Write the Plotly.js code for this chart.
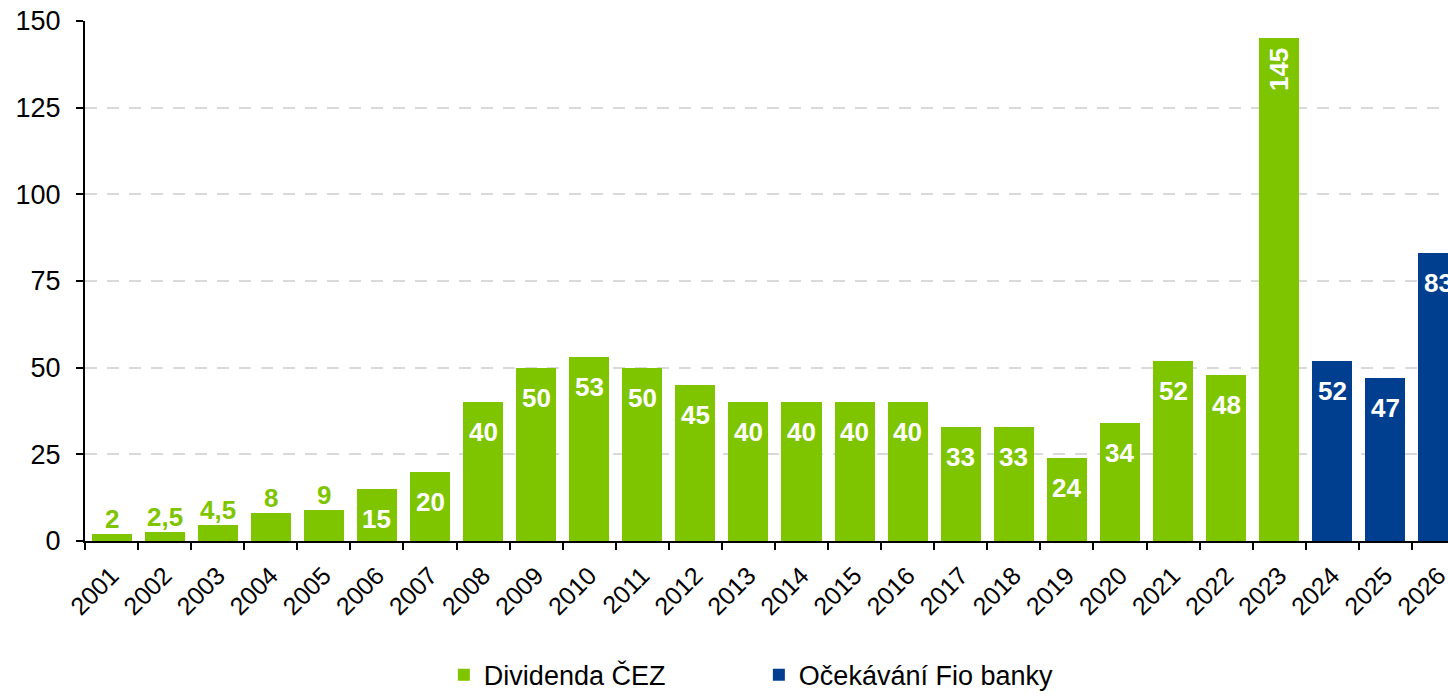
<!DOCTYPE html>
<html>
<head>
<meta charset="utf-8">
<script src="https://cdn.plot.ly/plotly-3.0.1.min.js"></script>
<style>html,body{margin:0;padding:0;background:#fff;overflow:hidden}#chart{width:1448px;height:696px}</style>
</head>
<body>
<div id="chart"></div>
<script>
const yearsActual = ['2001','2002','2003','2004','2005','2006','2007','2008','2009','2010','2011','2012','2013','2014','2015','2016','2017','2018','2019','2020','2021','2022','2023'];
const valuesActual = [2,2.5,4.5,8,9,15,20,40,50,53,50,45,40,40,40,40,33,33,24,34,52,48,145];
const yearsForecast = ['2024','2025','2026'];
const valuesForecast = [52,47,83];
const nameActual = 'Dividenda ČEZ';
const nameForecast = 'Očekávání Fio banky';
const yTicks = [0,25,50,75,100,125,150];

const GREEN = '#7EC500';
const BLUE = '#003F8F';
const FONT = 'Liberation Sans, Arial, sans-serif';
const allYears = yearsActual.concat(yearsForecast);

function fmt(v){ return String(v).replace('.', ','); }

const annotations = [];
function addLabels(xs, ys, color){
  xs.forEach((x, i) => {
    const v = ys[i];
    const a = {x: allYears.indexOf(x), y: v, xref: 'x', yref: 'y', text: fmt(v), showarrow: false,
      font: {family: FONT, size: 26, color: '#fff', weight: 'bold'}};
    if (v > 100) {
      a.textangle = -90; a.yanchor = 'top'; a.yshift = -8;
    } else if (v >= 15) {
      a.yanchor = 'middle'; a.yshift = -30;
    } else {
      a.yanchor = 'bottom'; a.yshift = -2; a.font.color = color;
    }
    annotations.push(a);
  });
}
addLabels(yearsActual, valuesActual, GREEN);
addLabels(yearsForecast, valuesForecast, BLUE);

const data = [
  {type: 'bar', x: yearsActual, y: valuesActual, name: nameActual, marker: {color: GREEN}, hoverinfo: 'x+y'},
  {type: 'bar', x: yearsForecast, y: valuesForecast, name: nameForecast, marker: {color: BLUE}, hoverinfo: 'x+y'}
];

const layout = {
  width: 1448, height: 696,
  margin: {l: 85, r: 0, t: 21, b: 155, autoexpand: false},
  paper_bgcolor: '#fff', plot_bgcolor: '#fff',
  barmode: 'stack', bargap: 0.245,
  font: {family: FONT, size: 26, color: '#000'},
  xaxis: {
    type: 'category', categoryorder: 'array', categoryarray: allYears,
    range: [-0.5, 25.18],
    showline: true, linecolor: '#000', linewidth: 2,
    ticks: 'outside', tickson: 'boundaries', ticklen: 7, tickwidth: 2, tickcolor: '#000',
    tickangle: -45, tickfont: {family: FONT, size: 25, color: '#000'},
    ticklabelstandoff: 8, automargin: false,
    showgrid: false, zeroline: false
  },
  yaxis: {
    range: [0, 150], tickvals: yTicks, ticktext: yTicks.map(String),
    showline: true, linecolor: '#000', linewidth: 2,
    ticks: 'outside', ticklen: 7, tickwidth: 2, tickcolor: '#000',
    tickfont: {family: FONT, size: 27, color: '#000'},
    ticklabelstandoff: 10, automargin: false,
    showgrid: true, gridcolor: '#D9D9D9', gridwidth: 2, griddash: '12px,10px',
    zeroline: false
  },
  showlegend: true,
  legend: {
    orientation: 'h', x: 0.4944, xanchor: 'center', yref: 'container', y: 0.03, yanchor: 'middle',
    font: {family: FONT, size: 27, color: '#000'},
    entrywidth: 270, entrywidthmode: 'pixels', itemwidth: 30, traceorder: 'normal'
  },
  annotations: annotations
};

Plotly.newPlot('chart', data, layout, {displayModeBar: false, staticPlot: true});
</script>
</body>
</html>
